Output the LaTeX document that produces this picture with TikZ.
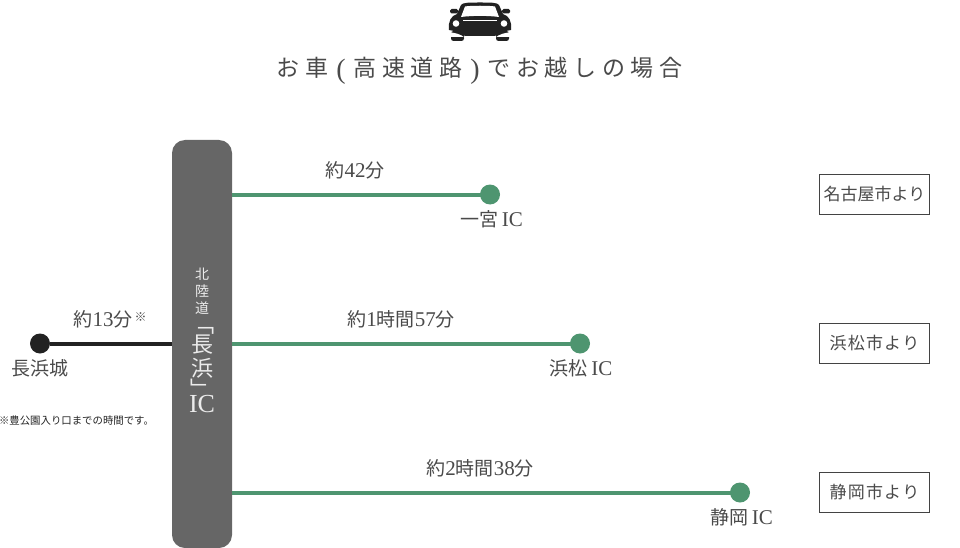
\documentclass[tikz,border=0pt]{standalone}
\usepackage{fontspec}
\setmainfont{Liberation Serif}
\newfontfamily\cjk{Noto Sans CJK JP}
\definecolor{ink}{HTML}{222222}
\definecolor{txt}{HTML}{4A4A4A}
\definecolor{barc}{HTML}{666666}
\definecolor{grn}{HTML}{4E9570}
\newcommand{\jfs}[1]{\fontsize{#1}{#1}\selectfont}
\newcommand{\lat}[1]{{\rmfamily\jfs{21}#1}}
\newcommand{\tsp}{\hspace{5.6pt}}
\newcommand{\paren}[1]{\raisebox{-1.5pt}{\rmfamily\jfs{28}#1}}
\tikzset{x=1pt,y=-1pt,
 lab/.style={inner sep=0pt,text=txt,font=\jfs{19}\cjk},
 dot/.style={circle,fill=grn,inner sep=0pt,minimum size=20pt},
 road/.style={draw=grn,line width=4pt},
 origin/.style={draw=ink!85,line width=1.2pt,fill=white,minimum width=110pt,minimum height=40pt,inner sep=0pt,text=txt,font=\jfs{17}\cjk},
 vert/.style={inner sep=0pt,text=white!92!black,font=\cjk}}
\begin{document}
\begin{tikzpicture}
\useasboundingbox (0,0) rectangle (960,548);
% car
\fill[ink,rounded corners=2.5pt] (451,31) rectangle (464,41);
\fill[ink,rounded corners=2.5pt] (496,31) rectangle (509,41);
\fill[white] (449,32) .. controls (455,33) and (461,34) .. (465,38) -- (495,38) .. controls (499,34) and (505,33) .. (511,32) -- (511,37) -- (449,37) -- cycle;
\fill[ink,rounded corners=1.5pt] (450,9) rectangle (458,13.5);
\fill[ink,rounded corners=1.5pt] (502,9) rectangle (510,13.5);
\fill[ink] (449,30) .. controls (448,21) and (451,16) .. (457,14) -- (461,5) .. controls (463,2.5) and (468,2.5) .. (480,2.5) .. controls (492,2.5) and (497,2.5) .. (499,5) -- (503,14) .. controls (509,16) and (512,21) .. (511,30) .. controls (505,31) and (499,32.5) .. (495,36) -- (465,36) .. controls (461,32.5) and (455,31) .. (449,30) -- cycle;
\fill[white] (461,17) -- (465,6.5) .. controls (470,5.5) and (490,5.5) .. (495,6.5) -- (499,17) .. controls (488,15.5) and (472,15.5) .. cycle;
\fill[white] (456,23.5) circle (3.3);
\fill[white] (504,23.5) circle (3.3);
\draw[white,line width=.9pt] (463,20) -- (497,20);
\node[lab,font=\jfs{23}\cjk] (title) at (479.5,71) {お\tsp 車\hspace{8pt}\paren{(}\hspace{8pt}高\tsp 速\tsp 道\tsp 路\hspace{8pt}\paren{)}\hspace{8pt}で\tsp お\tsp 越\tsp し\tsp の\tsp 場\tsp 合};
% bar
\node[fill=barc,rounded corners=13pt,minimum width=60pt,minimum height=408pt,inner sep=0pt] (bar) at (202,344) {};
\node[vert,font=\jfs{14}\cjk] (v1) at (202,274) {北};
\node[vert,font=\jfs{14}\cjk] (v2) at (202,291) {陸};
\node[vert,font=\jfs{14}\cjk] (v3) at (202,308) {道};
\node[vert,font=\jfs{22}\cjk] (v4) at (203,331) {﹁};
\node[vert,font=\jfs{22}\cjk] (v5) at (202,345) {長};
\node[vert,font=\jfs{22}\cjk] (v6) at (202,368) {浜};
\node[vert,font=\jfs{22}\cjk] (v7) at (201,388) {﹂};
\node[vert,font=\jfs{26}\rmfamily] (v8) at (202,404) {IC};
% destination nodes
\node[dot] (d1) at (490,194.5) {};
\node[dot] (d2) at (580,343.5) {};
\node[dot] (d3) at (740,492.5) {};
\node[circle,fill=ink,inner sep=0pt,minimum size=20pt] (d0) at (40,343.5) {};
\draw[road] ([yshift=-.5pt]bar.east |- d1) -- ([yshift=-.5pt]d1.center);
\draw[road] ([yshift=-.5pt]bar.east |- d2) -- ([yshift=-.5pt]d2.center);
\draw[road] ([yshift=-.5pt]bar.east |- d3) -- ([yshift=-.5pt]d3.center);
\draw[ink,line width=4pt] (d0) -- (bar.west |- d0);
% labels
\node[lab] (t1) at (355,170) {約\lat{42}分};
\node[lab] (t2) at (401,319) {約\lat{1}時間\lat{57}分};
\node[lab] (t3) at (480,468) {約\lat{2}時間\lat{38}分};
\node[lab] (t0) at (110,319) {約\lat{13}分\raisebox{5pt}{\jfs{12}\,※}};
\node[lab] (n1) at (491.5,219) {一宮\lat{\,IC}};
\node[lab] (n2) at (581,368) {浜松\lat{\,IC}};
\node[lab] (n3) at (741.5,517) {静岡\lat{\,IC}};
\node[lab] (n0) at (40.5,368) {長浜城};
\node[lab,font=\jfs{10.4}\cjk,text=ink] (note) at (76.5,420.5) {※豊公園入り口までの時間です。};
% origin boxes
\node[origin] (o1) at (874.5,194.5) {名古屋市より};
\node[origin] (o2) at (874.5,343.5) {浜\hspace{1.2pt}松\hspace{1.2pt}市\hspace{1.2pt}よ\hspace{1.2pt}り};
\node[origin] (o3) at (874.5,492.5) {静\hspace{1.2pt}岡\hspace{1.2pt}市\hspace{1.2pt}よ\hspace{1.2pt}り};
\end{tikzpicture}
\end{document}
